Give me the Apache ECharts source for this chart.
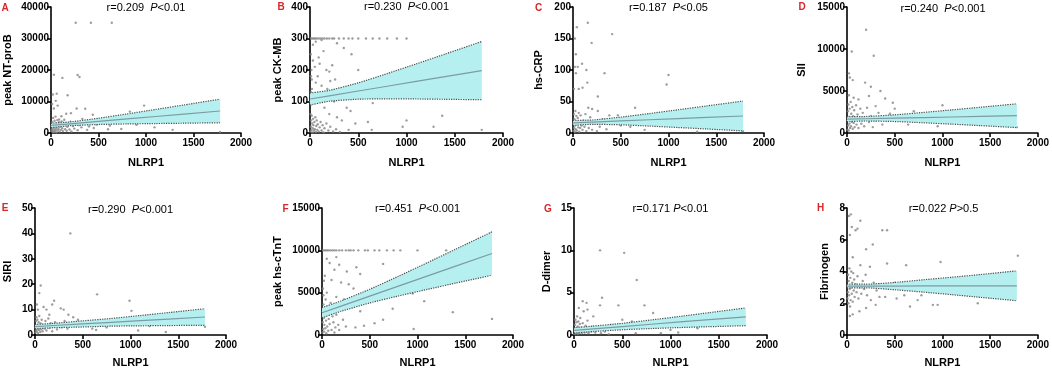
<!DOCTYPE html>
<html>
<head>
<meta charset="utf-8">
<script src="https://cdn.jsdelivr.net/npm/echarts@6/dist/echarts.min.js"></script>
<style>html,body{margin:0;padding:0;background:#fff}#c{width:1052px;height:369px}</style>
</head>
<body>
<div id="c"></div>
<script>
// ---------------- DATA ----------------
const xName = 'NLRP1';
const bandX = [0, 200, 500, 800, 1100, 1400, 1780];

// A: peak NT-proB
const fitA = [2400, 2916, 3690, 4464, 5238, 6012, 6992];
const upA  = [3090, 3526, 4685, 6057, 7476, 8912, 10732];
const loA  = [1710, 2306, 2695, 2871, 3000, 3112, 3252];
const ptsA = [[260,35000],[420,35000],[640,35000],[30,18500],[120,17500],[280,18400],[300,17800],[60,12500],[175,12000],[20,12200],[50,10200],[12,9200],[70,8700],[30,7800],[270,7800],[360,7700],[980,8700],[830,6800],[440,5800],[210,6300],[160,6100],[110,5300],[85,4300],[330,4500],[520,3200],[700,3400],[620,2400],[740,1300],[1090,1800],[1280,1000],[1780,300],[600,1200],[450,1600],[380,1000],[900,2600],[1000,3500],
[5,600],[8,2200],[10,1200],[14,3500],[16,400],[20,1800],[22,4800],[25,900],[28,2700],[32,300],[35,1500],[38,3900],[42,700],[45,2200],[48,5200],[52,1100],[55,3000],[58,200],[62,1700],[66,4100],[70,800],[75,2500],[80,1300],[84,3400],[90,500],[95,2000],[100,2900],[105,1000],[112,3700],[118,1500],[125,600],[132,2400],[140,4200],[148,1200],[155,3100],[165,700],[172,2000],[185,2800],[195,1100],[205,3600],[215,500],[230,2200],[245,1400],[260,3000],[280,900],[300,2500],[320,1800],[350,3300],[400,2100],[480,2700],[550,4000]];

// B: peak CK-MB
const fitB = [108, 118.1, 133.3, 148.5, 163.7, 178.8, 198];
const upB  = [127, 135.4, 159.2, 188.6, 219.4, 250.6, 290.5];
const loB  = [89, 100.8, 107.4, 108.4, 108, 107, 105.5];
const ptsB = [[10,300],[25,300],[40,300],[55,300],[70,300],[90,300],[110,300],[130,300],[150,300],[175,300],[200,300],[230,300],[250,300],[300,300],[350,300],[400,300],[440,300],[500,300],[580,300],[650,300],[720,300],[800,300],[900,300],[1000,300],[60,290],[120,295],
[30,230],[50,210],[90,240],[100,220],[80,180],[140,260],[170,200],[200,195],[210,165],[230,215],[260,170],[280,285],[350,270],[430,250],[500,200],[380,80],[300,120],[250,100],[180,140],[120,150],[60,160],[40,120],[20,140],[10,180],[150,80],[200,60],[280,50],[330,40],[420,70],[470,30],[600,35],[650,95],[950,140],[1080,165],[1000,40],[960,20],[1280,20],[1370,55],[1780,10],[640,10],[400,10],
[5,5],[10,20],[12,40],[15,10],[18,55],[22,30],[25,2],[28,15],[32,45],[35,25],[40,8],[45,35],[50,12],[55,50],[60,3],[65,22],[70,40],[75,10],[80,28],[90,5],[100,18],[110,35],[120,8],[130,25],[140,2],[150,15],[170,30],[190,8],[210,20],[240,5],[270,12],[310,3],
[5,100],[8,250],[12,90],[15,200],[18,170],[25,110],[30,280],[5,60],[10,130]];

// C: hs-CRP
const fitC = [16, 17.2, 19.1, 21.0, 22.8, 24.7, 27.0];
const upC  = [20.0, 20.6, 25.2, 30.9, 36.9, 43.0, 50.7];
const loC  = [12.0, 13.8, 13.0, 11.0, 8.7, 6.4, 3.3];
const ptsC = [[155,175],[195,143],[410,157],[40,168],[30,125],[20,105],[50,105],[95,110],[140,100],[100,72],[150,80],[330,95],[1000,92],[980,77],[260,58],[60,70],[10,70],[20,150],[30,95],[160,40],[200,38],[260,35],[380,28],[650,40],[470,28],[900,22],[1080,23],[600,10],[750,5],[1300,2],[1780,3],[850,15],[700,18],[500,12],[420,20],
[5,3],[8,15],[10,30],[12,8],[15,22],[18,2],[22,12],[25,35],[28,6],[32,18],[35,27],[40,4],[45,14],[50,24],[55,9],[60,32],[65,2],[70,16],[75,8],[80,28],[90,12],[100,5],[110,20],[120,10],[130,30],[140,3],[150,18],[165,8],[180,25],[200,5],[220,15],[250,3],[280,10],[310,22],[350,6]];

// D: SII
const fitD = [1650, 1696, 1765, 1834, 1903, 1972, 2059];
const upD  = [1945, 1965, 2165, 2449, 2756, 3071, 3474];
const loD  = [1355, 1427, 1365, 1219, 1050, 873, 644];
const ptsD = [[200,12300],[280,9200],[50,9700],[20,7100],[30,6600],[60,6300],[190,6000],[250,5500],[350,5000],[230,4400],[400,4100],[120,4000],[70,4200],[20,4500],[480,3600],[1000,3300],[500,2900],[700,2600],[900,1800],[1290,1500],[1370,1000],[1780,700],[640,1000],[780,1900],[950,800],[1050,2600],[300,3200],[450,2300],
[5,400],[8,1500],[10,2600],[12,900],[15,3400],[18,300],[22,1900],[25,1100],[28,2900],[32,600],[35,1600],[38,3700],[42,800],[45,2300],[50,1300],[55,3100],[60,500],[65,2000],[70,1200],[75,2700],[80,700],[88,1700],[95,3300],[100,1000],[110,2200],[120,600],[130,1800],[140,2900],[150,1100],[165,2400],[180,800],[195,1600],[210,3000],[230,1300],[250,2000],[270,700],[300,1500],[330,2400],[370,1000]];

// E: SIRI
const fitE = [3.3, 3.73, 4.37, 5.0, 5.64, 6.28, 7.09];
const upE  = [4.15, 4.59, 5.58, 6.52, 7.66, 8.84, 10.35];
const loE  = [2.45, 2.87, 3.16, 3.48, 3.62, 3.72, 3.83];
const ptsE = [[370,40],[60,19.5],[45,16.5],[650,16],[990,13.5],[1010,9.5],[200,13.5],[180,12],[270,10.5],[300,10],[120,10],[90,11],[20,12],[30,10],[150,8],[350,8],[400,7],[450,6],[500,5],[600,2.5],[750,3],[900,4],[1080,1.8],[1370,1.2],[1780,3.2],[1200,3.5],[850,4.5],[640,2],
[5,1],[8,3],[10,5.5],[12,2],[15,7],[18,1.5],[22,4],[25,6],[28,2.5],[32,0.8],[35,3.5],[38,5],[42,2],[45,7.5],[50,3],[55,1.2],[60,4.5],[65,2.2],[70,6],[75,3.2],[80,1.5],[90,4],[100,2.5],[110,5.5],[120,1.8],[130,3.8],[140,6.5],[150,2.8],[165,4.6],[180,1.5],[195,3.5],[210,5],[230,2.2],[250,4],[280,3],[310,5.5],[340,2.5]];

// F: peak hs-cTnT
const fitF = [2630, 3416, 4595, 5774, 6953, 8132, 9625];
const upF  = [3238, 4029, 5404, 6939, 8527, 10136, 12189];
const loF  = [2022, 2803, 3786, 4609, 5379, 6128, 7061];
const ptsF = [[10,10000],[25,10000],[40,10000],[55,10000],[70,10000],[90,10000],[110,10000],[130,10000],[150,10000],[180,10000],[210,10000],[250,10000],[280,10000],[300,10000],[330,10000],[380,10000],[450,10000],[480,10000],[550,10000],[600,10000],[680,10000],[750,10000],[820,10000],[1000,10000],[1300,10000],
[50,9000],[80,8500],[150,9200],[180,8300],[130,7700],[260,7500],[360,8000],[640,8400],[400,7200],[100,6500],[200,6200],[280,6000],[330,5500],[50,5000],[150,4500],[230,4200],[320,3300],[400,2800],[500,4800],[950,4900],[1070,4000],[740,3100],[1370,2700],[1780,1900],[640,1800],[550,1400],[960,700],[440,1100],[350,900],[250,1000],[180,600],[130,300],
[5,300],[8,1500],[10,2800],[12,700],[15,3600],[18,2000],[22,400],[25,1200],[28,3000],[32,2300],[35,800],[38,4200],[42,1700],[45,200],[50,2600],[55,1000],[60,3400],[65,500],[70,1900],[75,2900],[80,1300],[90,3800],[100,600],[110,2200],[120,1500],[130,3000],[140,900],[150,2400],[170,1200],[200,3500],[220,1800],[10,5500],[20,6400],[30,7000],[15,4700]];

// G: D-dimer
const fitG = [0.55, 0.73, 1.0, 1.27, 1.54, 1.81, 2.15];
const upG  = [0.87, 1.05, 1.38, 1.78, 2.2, 2.64, 3.2];
const loG  = [0.23, 0.41, 0.62, 0.76, 0.88, 0.98, 1.1];
const ptsG = [[270,10],[520,9.7],[650,6.5],[290,4.4],[270,3.5],[460,3.5],[730,3.5],[820,2.6],[90,4],[130,3.8],[140,3],[50,3.2],[100,2.8],[200,2.2],[500,1.8],[600,1.6],[1360,1.5],[1280,0.8],[900,0.2],[1080,0.3],[1000,0.6],[640,0.2],[380,1.2],[300,0.6],
[5,0.1],[8,0.5],[10,1.2],[12,0.3],[15,1.8],[18,0.8],[22,0.2],[25,1.5],[28,0.6],[32,2.2],[35,0.4],[38,1],[42,0.15],[45,1.6],[50,0.7],[55,0.3],[60,1.3],[65,2],[70,0.5],[75,0.9],[80,0.2],[90,1.4],[100,0.6],[110,0.3],[120,1.1],[130,0.4],[140,1.7],[150,0.2],[165,0.8],[180,0.4],[200,1.0],[220,0.3],[250,0.6],[280,0.2],[320,0.4],[360,0.1]];

// H: Fibrinogen
const fitH = [3.08, 3.08, 3.08, 3.09, 3.09, 3.09, 3.1];
const upH  = [3.2, 3.2, 3.31, 3.48, 3.64, 3.81, 4.04];
const loH  = [2.97, 2.97, 2.85, 2.7, 2.54, 2.37, 2.16];
const ptsH = [[20,7.5],[40,7.6],[140,7.2],[50,6.8],[90,6.6],[110,6.7],[370,6.6],[420,6.6],[200,5.4],[270,5.7],[1790,5.0],[30,6.3],[60,4.9],[420,4.5],[620,4.4],[980,4.6],[240,4.3],[340,3.2],[500,3.3],[700,2.9],[780,2.5],[900,1.9],[950,1.9],[1080,3.2],[1290,2.7],[1370,2.0],[660,1.8],[740,2.2],[520,2.3],[300,1.9],[200,1.7],[130,1.5],[60,1.3],[30,1.2],[1000,3.1],[400,2.4],[600,2.5],
[5,2.3],[8,3.1],[10,2.7],[12,3.8],[15,2.0],[18,3.4],[22,2.5],[25,4.2],[28,2.9],[32,1.8],[35,3.6],[38,2.2],[42,3.0],[45,4.0],[50,2.6],[55,3.3],[60,2.1],[65,3.9],[70,2.8],[75,3.5],[80,2.4],[90,3.2],[100,2.7],[110,3.7],[120,2.3],[130,3.0],[140,4.4],[150,2.6],[165,3.4],[180,2.9],[195,3.8],[210,2.5],[230,3.1],[250,2.2],[280,3.3],[310,2.8],[340,2.4]];

const letters = ['A','B','C','D','E','F','G','H'];
const yNames  = ['peak NT-proB','peak CK-MB','hs-CRP','SII','SIRI','peak hs-cTnT','D-dimer','Fibrinogen'];
const rVals   = ['0.209','0.230','0.187','0.240','0.290','0.451','0.171','0.022'];
const pVals   = ['<0.01','<0.001','<0.05','<0.001','<0.001','<0.001','<0.01','>0.5'];
const yMaxs   = [40000, 400, 200, 15000, 50, 15000, 15, 8];
const yInts   = [10000, 100, 50, 5000, 10, 5000, 5, 2];
const pts  = [ptsA, ptsB, ptsC, ptsD, ptsE, ptsF, ptsG, ptsH];
const fits = [fitA, fitB, fitC, fitD, fitE, fitF, fitG, fitH];
const ups  = [upA, upB, upC, upD, upE, upF, upG, upH];
const los  = [loA, loB, loC, loD, loE, loF, loG, loH];

// ---------------- LAYOUT ----------------
const layout = [
  {left:51,  top:7,   w:190, h:126, yGap:38, xGap:24, lx:5,     ly:8,   ty:8,   rsp:'  '},
  {left:310, top:7,   w:193, h:126, yGap:27, xGap:24, lx:281,   ly:7,   ty:7,   rsp:'  '},
  {left:573, top:7,   w:191, h:126, yGap:29, xGap:24, lx:538.5, ly:8,   ty:8,   rsp:'  '},
  {left:847, top:7,   w:192, h:126, yGap:40, xGap:24, lx:802,   ly:7,   ty:9,   rsp:'  '},
  {left:35,  top:208, w:191, h:127, yGap:22, xGap:22, lx:5,     ly:208, ty:210, rsp:'  '},
  {left:322, top:208, w:191, h:127, yGap:39, xGap:22, lx:285.5, ly:209, ty:209, rsp:'  '},
  {left:574, top:208, w:193, h:127, yGap:22, xGap:22, lx:548,   ly:209, ty:209, rsp:' '},
  {left:847, top:208, w:193, h:128, yGap:17, xGap:22, lx:820.5, ly:208, ty:209, rsp:' '}
];

const FONT = '"Liberation Sans", Arial, sans-serif';
const plain = (v) => String(v);
const grids = [], xAxes = [], yAxes = [], series = [], graphics = [];
const axisCommon = {
  axisLine: {show: true, lineStyle: {color: '#000', width: 1.6}},
  axisTick: {show: true, inside: false, length: 4, lineStyle: {color: '#000', width: 1.6}},
  splitLine: {show: false},
  nameLocation: 'middle',
  nameTextStyle: {fontFamily: FONT, fontWeight: 'bold', fontSize: 11, color: '#000'}
};

for (let i = 0; i < 8; i++) {
  const L = layout[i];
  grids.push({left: L.left, top: L.top, width: L.w, height: L.h, containLabel: false});
  xAxes.push(Object.assign({}, axisCommon, {
    type: 'value', gridIndex: i, min: 0, max: 2000, interval: 500,
    name: xName, nameGap: L.xGap,
    axisLabel: {fontFamily: FONT, fontWeight: 'bold', fontSize: 10, color: '#000', margin: 5, formatter: plain}
  }));
  yAxes.push(Object.assign({}, axisCommon, {
    type: 'value', gridIndex: i, min: 0, max: yMaxs[i], interval: yInts[i],
    name: yNames[i], nameGap: L.yGap,
    axisLabel: {fontFamily: FONT, fontWeight: 'bold', fontSize: 10, color: '#000', margin: 2, formatter: plain}
  }));

  series.push({
    type: 'scatter', xAxisIndex: i, yAxisIndex: i, data: pts[i],
    symbol: 'circle', symbolSize: 2.4, itemStyle: {color: '#858585'}, z: 2, silent: true
  });
  const up = ups[i], lo = los[i];
  series.push({
    type: 'custom', xAxisIndex: i, yAxisIndex: i, data: [[0, 0]], z: 3, silent: true,
    renderItem: function (params, api) {
      const poly = [];
      for (let k = 0; k < bandX.length; k++) poly.push(api.coord([bandX[k], up[k]]));
      for (let k = bandX.length - 1; k >= 0; k--) poly.push(api.coord([bandX[k], lo[k]]));
      return {type: 'polygon', shape: {points: poly}, style: {fill: '#b6efef', stroke: null}};
    }
  });
  const mk = (arr) => bandX.map((x, k) => [x, arr[k]]);
  series.push({
    type: 'line', xAxisIndex: i, yAxisIndex: i, data: mk(up), showSymbol: false, smooth: 0.2,
    lineStyle: {color: '#4d4d4d', width: 1.2, type: 'dotted'}, z: 4, silent: true
  });
  series.push({
    type: 'line', xAxisIndex: i, yAxisIndex: i, data: mk(lo), showSymbol: false, smooth: 0.2,
    lineStyle: {color: '#4d4d4d', width: 1.2, type: 'dotted'}, z: 4, silent: true
  });
  series.push({
    type: 'line', xAxisIndex: i, yAxisIndex: i, data: mk(fits[i]), showSymbol: false,
    lineStyle: {color: '#7c9ca4', width: 1.2}, z: 5, silent: true
  });

  graphics.push({
    type: 'text', x: L.lx, y: L.ly,
    style: {text: letters[i], fill: '#d9262b', font: 'bold 10px ' + FONT, textAlign: 'center', textVerticalAlign: 'middle'}
  });
  graphics.push({
    type: 'text', x: L.left + L.w / 2, y: L.ty,
    style: {
      text: '{n|r=' + rVals[i] + L.rsp + '}{i|P}{n|' + pVals[i] + '}',
      textAlign: 'center', textVerticalAlign: 'middle',
      rich: {
        n: {fontFamily: FONT, fontSize: 11, fill: '#000', color: '#000'},
        i: {fontFamily: FONT, fontSize: 11, fontStyle: 'italic', fill: '#000', color: '#000'}
      }
    }
  });
}

const chart = echarts.init(document.getElementById('c'), null, {renderer: 'canvas'});
chart.setOption({
  backgroundColor: '#fff',
  animation: false,
  grid: grids, xAxis: xAxes, yAxis: yAxes, series: series,
  graphic: graphics
});
</script>
</body>
</html>
